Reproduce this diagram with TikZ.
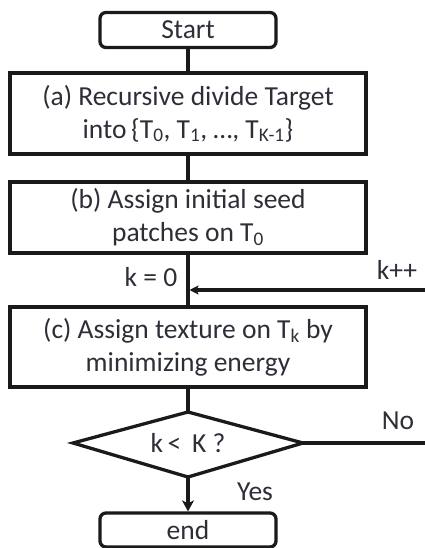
\documentclass[tikz,border=0pt]{standalone}
\usepackage{fontspec}
\setmainfont{Carlito}
\usetikzlibrary{arrows.meta}
\definecolor{ln}{HTML}{1A1A1A}
\definecolor{tx}{HTML}{2E2E38}
\begin{document}
\begin{tikzpicture}[x=1pt,y=-1pt,
  every node/.style={font=\fontsize{27.5pt}{33pt}\selectfont, text=tx},
  box/.style={draw=ln, line width=3.3pt, minimum width=356pt, minimum height=81pt, inner sep=0pt, align=center},
  term/.style={draw=ln, line width=3.3pt, rounded corners=6pt, minimum width=176pt, minimum height=35pt, inner sep=0pt},
  conn/.style={draw=ln, line width=3.3pt},
  lbl/.style={inner sep=0pt}]
\useasboundingbox (0,0) rectangle (424,548);

\node[term] (start) at (188,30) {Start};
\node[box] (a) at (188,113.5) {(a) Recursive divide Target\\ into\,\{T\textsubscript{0}, T\textsubscript{1}, …, T\textsubscript{K-1}\}};
\node[box, minimum height=71pt] (b) at (188,217.5) {(b) Assign initial seed\\ patches on T\textsubscript{0}};
\node[box, minimum height=80pt] (c) at (188,347) {(c) Assign texture on T\textsubscript{k} by\\ minimizing energy};

\coordinate (dN) at (188,412);
\coordinate (dE) at (303,443);
\coordinate (dS) at (188,477);
\coordinate (dW) at (73,443);
\draw[conn, line join=miter] (dN) -- (dE) -- (dS) -- (dW) -- cycle;
\node[lbl] (d) at (188,443) {k\,<\, K ?};

\node[term, minimum height=34pt] (end) at (188,530) {end};

\coordinate (rb) at (430,443);
\coordinate (rt) at (430,290);
\coordinate (jn) at (189.5,290);

\draw[conn] (start) -- (a);
\draw[conn] (a) -- (b);
\draw[conn] (b) -- (c);
\draw[conn] (c.south) -- (dN);
\draw[conn, -{Stealth[length=11pt,width=12pt,inset=3pt]}] (dS) -- (end.north);
\draw[conn, -{Stealth[length=9pt,width=9pt,inset=2pt]}] (dE) -- (rb) -- (rt) -- (jn);

\node[lbl] (k0) at (151,277) {k = 0};
\node[lbl] (kpp) at (397,270) {k++};
\node[lbl] (no) at (398,421) {No};
\node[lbl] (yes) at (255,492) {Yes};
\end{tikzpicture}
\end{document}
